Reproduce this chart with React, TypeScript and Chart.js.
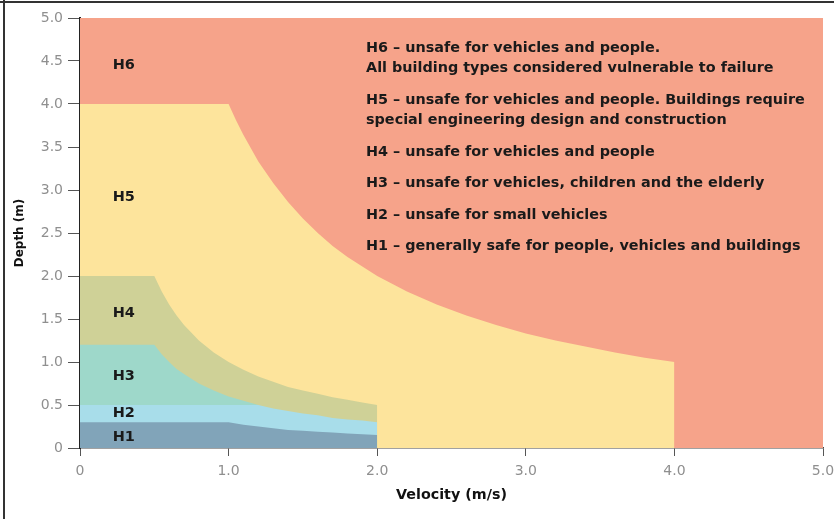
import React, { useEffect, useRef } from "react";
import { Chart, registerables } from "chart.js";

Chart.register(...registerables);

// Hazard zone boundaries: [velocity (m/s), depth (m)]
const h1Boundary: [number, number][] = [
  [0, 0.3], [1.0, 0.3], [1.1, 0.27], [1.2, 0.25], [1.3, 0.23], [1.4, 0.21], [1.5, 0.2],
  [1.6, 0.19], [1.7, 0.18], [1.8, 0.17], [1.9, 0.16], [2.0, 0.15], [2.0, 0],
];
const h2Boundary: [number, number][] = [
  [0, 0.5], [1.2, 0.5], [1.3, 0.46], [1.4, 0.43], [1.5, 0.4], [1.6, 0.38], [1.7, 0.35],
  [1.8, 0.33], [1.9, 0.32], [2.0, 0.3], [2.0, 0],
];
const h3Boundary: [number, number][] = [
  [0, 1.2], [0.5, 1.2], [0.55, 1.09], [0.6, 1.0], [0.65, 0.92], [0.7, 0.86], [0.8, 0.75],
  [0.9, 0.67], [1.0, 0.6], [1.1, 0.55], [1.2, 0.5], [1.2, 0],
];
const h4Boundary: [number, number][] = [
  [0, 2.0], [0.5, 2.0], [0.55, 1.82], [0.6, 1.67], [0.65, 1.54], [0.7, 1.43], [0.8, 1.25],
  [0.9, 1.11], [1.0, 1.0], [1.1, 0.91], [1.2, 0.83], [1.3, 0.77], [1.4, 0.71], [1.5, 0.67],
  [1.6, 0.63], [1.7, 0.59], [1.8, 0.56], [1.9, 0.53], [2.0, 0.5], [2.0, 0],
];
const h5Boundary: [number, number][] = [
  [0, 4.0], [1.0, 4.0], [1.05, 3.81], [1.1, 3.64], [1.2, 3.33], [1.3, 3.08], [1.4, 2.86],
  [1.5, 2.67], [1.6, 2.5], [1.7, 2.35], [1.8, 2.22], [1.9, 2.11], [2.0, 2.0], [2.2, 1.82],
  [2.4, 1.67], [2.6, 1.54], [2.8, 1.43], [3.0, 1.33], [3.2, 1.25], [3.4, 1.18], [3.6, 1.11],
  [3.8, 1.05], [4.0, 1.0], [4.0, 0],
];
const h6Boundary: [number, number][] = [
  [0, 5.0], [5.0, 5.0], [5.0, 0],
];

const zoneNames = ["H1", "H2", "H3", "H4", "H5", "H6"];
const zoneLabelX = [0.22, 0.22, 0.22, 0.22, 0.22, 0.22];
const zoneLabelY = [0.13, 0.41, 0.83, 1.57, 2.92, 4.45];

const legendGroups: string[][] = [
  ["H6 – unsafe for vehicles and people.", "All building types considered vulnerable to failure"],
  ["H5 – unsafe for vehicles and people. Buildings require", "special engineering design and construction"],
  ["H4 – unsafe for vehicles and people"],
  ["H3 – unsafe for vehicles, children and the elderly"],
  ["H2 – unsafe for small vehicles"],
  ["H1 – generally safe for people, vehicles and buildings"],
];

const xTickLabels = ["0", "1.0", "2.0", "3.0", "4.0", "5.0"];
const yTickLabels = ["0", "0.5", "1.0", "1.5", "2.0", "2.5", "3.0", "3.5", "4.0", "4.5", "5.0"];

const zoneColors = ["#81a4b9", "#a8ddea", "#9ed8ca", "#cfd197", "#fde49c", "#f6a38a"];

const FONT = "'DejaVu Sans', 'Liberation Sans', Arial, sans-serif";

export default function App() {
  const ref = useRef<HTMLCanvasElement | null>(null);

  useEffect(() => {
    document.body.style.margin = "0";
    const canvas = ref.current;
    if (!canvas) return;

    const boundaries = [h1Boundary, h2Boundary, h3Boundary, h4Boundary, h5Boundary, h6Boundary];

    const overlay = {
      id: "overlay",
      afterDraw(chart: any) {
        const { ctx, chartArea, scales } = chart;
        const xs = scales.x;
        const ys = scales.y;
        ctx.save();
        // zone labels
        ctx.fillStyle = "#1a1a1a";
        ctx.font = `bold 14.5px ${FONT}`;
        ctx.textAlign = "left";
        ctx.textBaseline = "middle";
        zoneNames.forEach((n, i) => {
          ctx.fillText(n, xs.getPixelForValue(zoneLabelX[i]), ys.getPixelForValue(zoneLabelY[i]));
        });
        // legend text
        ctx.font = `bold 14.4px ${FONT}`;
        let y = chartArea.top + 30;
        const lx = chartArea.left + 286;
        legendGroups.forEach((g, gi) => {
          if (gi > 0) y += 31.5;
          g.forEach((line, li) => {
            if (li > 0) y += 20.5;
            ctx.fillText(line, lx, y);
          });
        });
        // frame lines (left and top)
        ctx.fillStyle = "#333";
        ctx.fillRect(3, 0, 2, chart.height);
        ctx.fillRect(0, 1, chart.width, 2);
        ctx.restore();
      },
    };

    const chart = new Chart(canvas, {
      type: "scatter",
      data: {
        datasets: boundaries.map((b, i) => ({
          label: zoneNames[i],
          data: b.map(([x, y]) => ({ x, y })),
          showLine: true,
          fill: "origin",
          backgroundColor: zoneColors[i],
          borderColor: zoneColors[i],
          borderWidth: 0,
          pointRadius: 0,
          tension: 0,
        })),
      },
      options: {
        responsive: false,
        animation: false,
        devicePixelRatio: 1,
        layout: { padding: { left: 0, top: 18, right: 11, bottom: 0 } },
        plugins: { legend: { display: false }, tooltip: { enabled: false } },
        scales: {
          x: {
            type: "linear",
            min: 0,
            max: 5,
            afterFit: (s: any) => {
              s.height = 71;
              s.paddingLeft = 0;
              s.paddingRight = 0;
            },
            border: { display: true, color: "#444", width: 1.5 },
            grid: { drawOnChartArea: false, drawTicks: true, tickLength: 8, color: "#555", lineWidth: 1 },
            ticks: {
              stepSize: 1,
              autoSkip: false,
              maxRotation: 0,
              padding: 7,
              color: "#8f8f8f",
              font: { family: FONT, size: 14 },
              callback: (_v: any, i: number) => xTickLabels[i],
            },
            title: {
              display: true,
              text: "Velocity (m/s)",
              color: "#111",
              font: { family: FONT, size: 14.3, weight: "bold" },
              padding: { top: 0, bottom: 15 },
            },
          },
          y: {
            type: "linear",
            min: 0,
            max: 5,
            afterFit: (s: any) => {
              s.width = 80;
              s.paddingTop = 0;
              s.paddingBottom = 0;
            },
            border: { display: true, color: "#222", width: 2 },
            grid: { drawOnChartArea: false, drawTicks: true, tickLength: 12, color: "#555", lineWidth: 1 },
            ticks: {
              stepSize: 0.5,
              autoSkip: false,
              padding: 5,
              color: "#8f8f8f",
              font: { family: FONT, size: 14 },
              callback: (_v: any, i: number) => yTickLabels[i],
            },
            title: {
              display: true,
              text: "Depth (m)",
              color: "#111",
              font: { family: FONT, size: 12, weight: "bold" },
              padding: { top: 13, bottom: 0 },
            },
          },
        },
      },
      plugins: [overlay],
    });

    return () => chart.destroy();
  }, []);

  return (
    <div style={{ width: 834, height: 519 }}>
      <canvas ref={ref} width={834} height={519} style={{ display: "block", width: 834, height: 519 }} />
    </div>
  );
}
